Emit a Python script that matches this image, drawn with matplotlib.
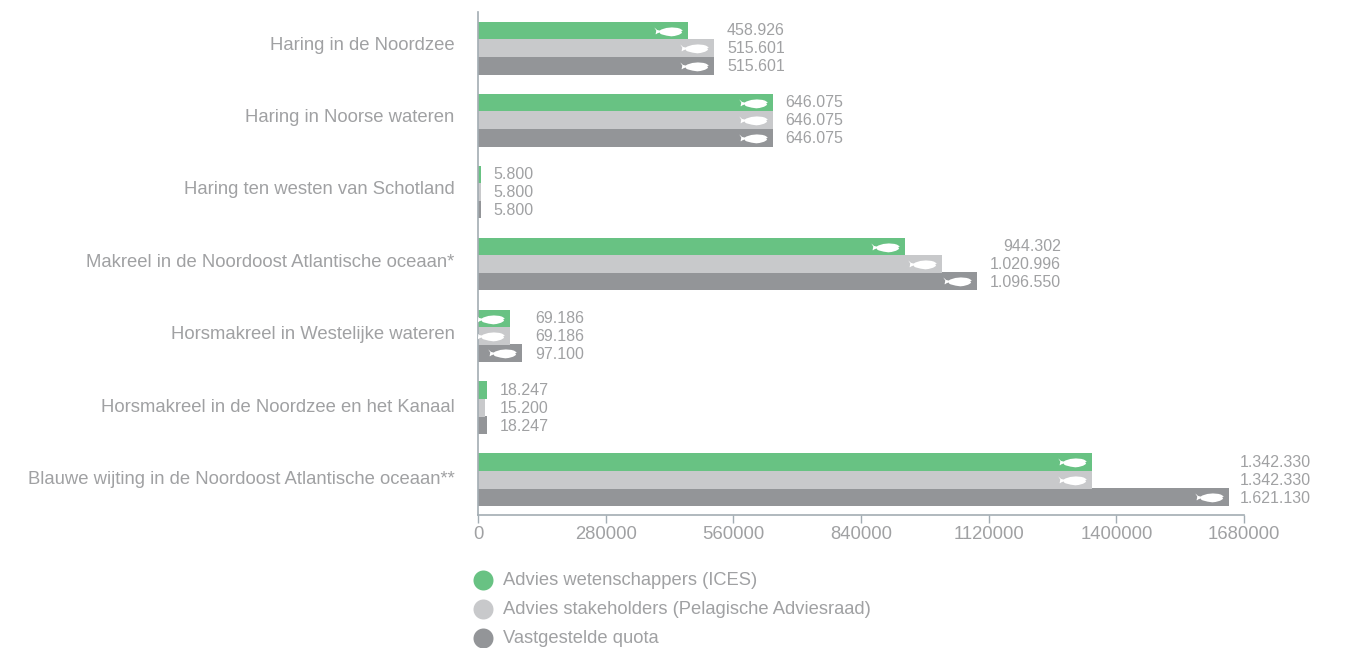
import matplotlib
matplotlib.use("Agg")
import matplotlib.pyplot as plt
import numpy as np
from matplotlib.lines import Line2D
from matplotlib.path import Path

plt.rcParams['font.family'] = ['Liberation Sans', 'DejaVu Sans']

categories = ["Haring in de Noordzee", "Haring in Noorse wateren", "Haring ten westen van Schotland",
              "Makreel in de Noordoost Atlantische oceaan*", "Horsmakreel in Westelijke wateren",
              "Horsmakreel in de Noordzee en het Kanaal", "Blauwe wijting in de Noordoost Atlantische oceaan**"]
# bar lengths, they differ a little from the printed labels
ices = [460500, 646075, 5800, 936000, 69186, 19000, 1346500]
stakeholders = [517500, 646075, 5800, 1017000, 69186, 15200, 1346500]
quota = [517500, 646075, 5800, 1094000, 97100, 19000, 1647000]
ices_labels = ["458.926", "646.075", "5.800", "944.302", "69.186", "18.247", "1.342.330"]
stakeholders_labels = ["515.601", "646.075", "5.800", "1.020.996", "69.186", "15.200", "1.342.330"]
quota_labels = ["515.601", "646.075", "5.800", "1.096.550", "97.100", "18.247", "1.621.130"]
series_names = ["Advies wetenschappers (ICES)", "Advies stakeholders (Pelagische Adviesraad)", "Vastgestelde quota"]
xticks = [0, 280000, 560000, 840000, 1120000, 1400000, 1680000]

W, H = 1348, 648
GREEN, LIGHT, DARK = "#68c283", "#c8c9cb", "#939598"
TEXT = "#a0a1a3"
AXIS = "#a3adb3"

# white fish, tail on the left. flat shape, the y scale keeps it thin
fish_verts = [(-1, 0.42), (-0.8, 0.16), (-0.62, 0.1), (-0.62, 0.1),
              (-0.3, 0.42), (0.35, 0.52), (0.8, 0.3), (0.9, 0.22), (0.98, 0.14), (1, 0.08),
              (0.88, 0.04), (0.94, -0.04), (1, -0.1), (0.85, -0.42), (0.2, -0.5), (-0.3, -0.4),
              (-0.45, -0.33), (-0.58, -0.22), (-0.62, -0.1), (-0.8, -0.2), (-1, -0.46),
              (-0.86, -0.1), (-0.86, 0.1), (-1, 0.42)]
fish_codes = [Path.MOVETO] + [Path.LINETO] * 3 + [Path.CURVE4] * 6 + [Path.LINETO] * 2 \
    + [Path.CURVE4] * 6 + [Path.LINETO] * 2 + [Path.CURVE4] * 3 + [Path.LINETO]
fish = Path([(a, b * 0.68) for a, b in fish_verts], fish_codes)

fig = plt.figure(figsize=(W / 100, H / 100), dpi=100)
ax = fig.add_axes([478 / W, 1 - 515 / H, (1244 - 478) / W, (515 - 12) / H])
ax.set_xlim(0, 1680000)
ax.set_ylim(6.5, -0.5)

band = (515 - 12) / 7
y = np.arange(len(categories))
offset = 17.3 / band
height = 18 / band
px = 1680000 / (1244 - 478)

for vals, color, shift in [(ices, GREEN, -offset), (quota, DARK, offset), (stakeholders, LIGHT, 0)]:
    ax.barh(y + shift + 0.5 / band, vals, height=height, color=color, zorder=2)
    for yy, v in zip(y + shift + 0.5 / band, vals):
        if v > 50000:
            ax.plot(v - 20 * px, yy, marker=fish, ms=20.5, color="white", mec="none", zorder=3)

# value labels: block sits 13px after the longest bar, right aligned inside the block
renderer = fig.canvas.get_renderer()
for i in range(len(categories)):
    labels = [ices_labels[i], stakeholders_labels[i], quota_labels[i]]
    longest = max(ices[i], stakeholders[i], quota[i])
    gap = 11 if i == 6 else 13
    probe = ax.text(0, 0, max(labels, key=len), fontsize=11.5)
    width = probe.get_window_extent(renderer).width
    probe.remove()
    for lab, dy in zip(labels, [-18, 0, 18]):
        ax.text(longest + (gap + width) * px, i + (dy + 1) / band, lab, ha="right", va="center",
                fontsize=11.5, color=TEXT)

for s in ["top", "right"]:
    ax.spines[s].set_visible(False)
for s in ["left", "bottom"]:
    ax.spines[s].set_color(AXIS)
    ax.spines[s].set_linewidth(1.2)
# category labels do not sit quite on the band centres
ax.set_yticks([(43 + 72.5 * i - 12) / band - 0.5 for i in y])
ax.set_yticklabels(categories, fontsize=13.35, color=TEXT)
ax.tick_params(axis="y", length=0, pad=17)
ax.set_xticks(xticks)
ax.set_xticklabels([str(t) for t in xticks], fontsize=13.3, color=TEXT)
ax.tick_params(axis="x", length=6, width=1, color=AXIS, pad=2)

for name, color, ypx in zip(series_names, [GREEN, LIGHT, DARK], [580, 609, 638]):
    fig.add_artist(Line2D([482.7 / W], [1 - ypx / H], marker="o", ms=14.4, color=color, mec="none",
                          transform=fig.transFigure))
    fig.text(503 / W, 1 - (ypx + 0.5) / H, name, fontsize=13.27, color=TEXT, va="center")

fig.savefig("out.png", dpi=100)
